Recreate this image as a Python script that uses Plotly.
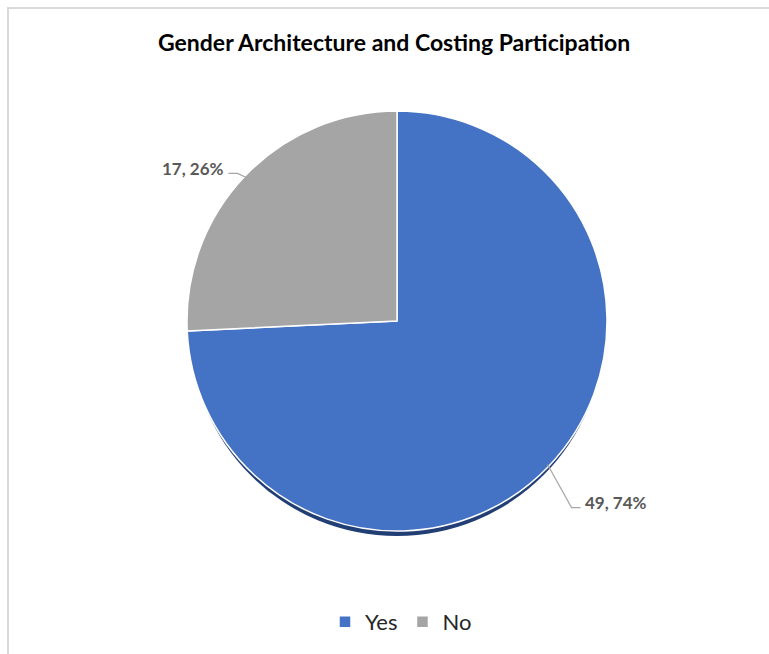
import math
import plotly.graph_objects as go

# Survey results
categories = ["Yes", "No"]
counts = [49, 17]
slice_colors = ["#4472C4", "#A5A5A5"]
title_text = "Gender Architecture and Costing Participation"

# Canvas geometry (pixels)
W, H = 769, 654
CX, CY, R = 397, 321, 210
SHADOW_DY = 8
SHADOW_SHRINK = 3

# Leader line elbow offsets (pixels) from each slice's edge point
leader_offsets = [(24, 43), (-9, -4)]
LEADER_TAIL = 9


def fx(px):
    return px / W


def fy(py):
    return 1 - py / H


def pie_domain(dy=0, r=R):
    return dict(x=[fx(CX - r), fx(CX + r)],
                y=[fy(CY + dy + r), fy(CY + dy - r)])


fig = go.Figure()

# soft drop shadow beneath the pie
fig.add_trace(go.Pie(
    values=[1], labels=["shadow"],
    marker=dict(colors=["#223f75"]),
    domain=pie_domain(SHADOW_DY, R - SHADOW_SHRINK),
    textinfo="none", hoverinfo="skip", showlegend=False, sort=False,
))

fig.add_trace(go.Pie(
    labels=categories, values=counts,
    marker=dict(colors=slice_colors, line=dict(color="white", width=1.5)),
    domain=pie_domain(),
    direction="clockwise", rotation=0, sort=False,
    textinfo="none",
))

# Outside data labels with elbow leader lines
total = sum(counts)
cum = 0
shapes = []
annotations = []
for val, (ox, oy) in zip(counts, leader_offsets):
    mid = (cum + val / 2) / total
    cum += val
    ang = 2 * math.pi * mid
    ex = CX + (R - 2) * math.sin(ang)
    ey = CY - (R - 2) * math.cos(ang)
    bx, by = ex + ox, ey + oy
    side = 1 if math.sin(ang) >= 0 else -1
    tx = bx + side * LEADER_TAIL
    shapes.append(dict(
        type="path", xref="paper", yref="paper",
        path=f"M {fx(ex)},{fy(ey)} L {fx(bx)},{fy(by)} L {fx(tx)},{fy(by)}",
        line=dict(color="#A6A6A6", width=1.2),
    ))
    pct = round(100 * val / total)
    annotations.append(dict(
        x=fx(tx + side * 2), y=fy(by - 5), xref="paper", yref="paper",
        text=f"<b>{val}, {pct}%</b>", showarrow=False,
        xanchor="left" if side > 0 else "right", yanchor="middle",
        font=dict(family="Lato", size=17, color="#595959"),
    ))

# chart frame
shapes.append(dict(
    type="rect", xref="paper", yref="paper",
    x0=fx(8), y0=fy(8), x1=fx(820), y1=fy(720),
    line=dict(color="#D9D9D9", width=2), fillcolor="rgba(0,0,0,0)",
))

annotations.append(dict(
    x=fx(394), y=fy(42), xref="paper", yref="paper",
    text=f"<b>{title_text}</b>", showarrow=False,
    xanchor="center", yanchor="middle",
    font=dict(family="Lato", size=23, color="#000000"),
))

fig.update_layout(
    width=W, height=H,
    margin=dict(l=0, r=0, t=0, b=0),
    paper_bgcolor="white", plot_bgcolor="white",
    shapes=shapes, annotations=annotations,
    showlegend=True,
    legend=dict(
        orientation="h", x=fx(401), xanchor="center",
        y=fy(622), yanchor="middle",
        font=dict(family="Lato", size=22, color="#262626"),
        traceorder="normal",
    ),
)

fig.write_html("out.html")
